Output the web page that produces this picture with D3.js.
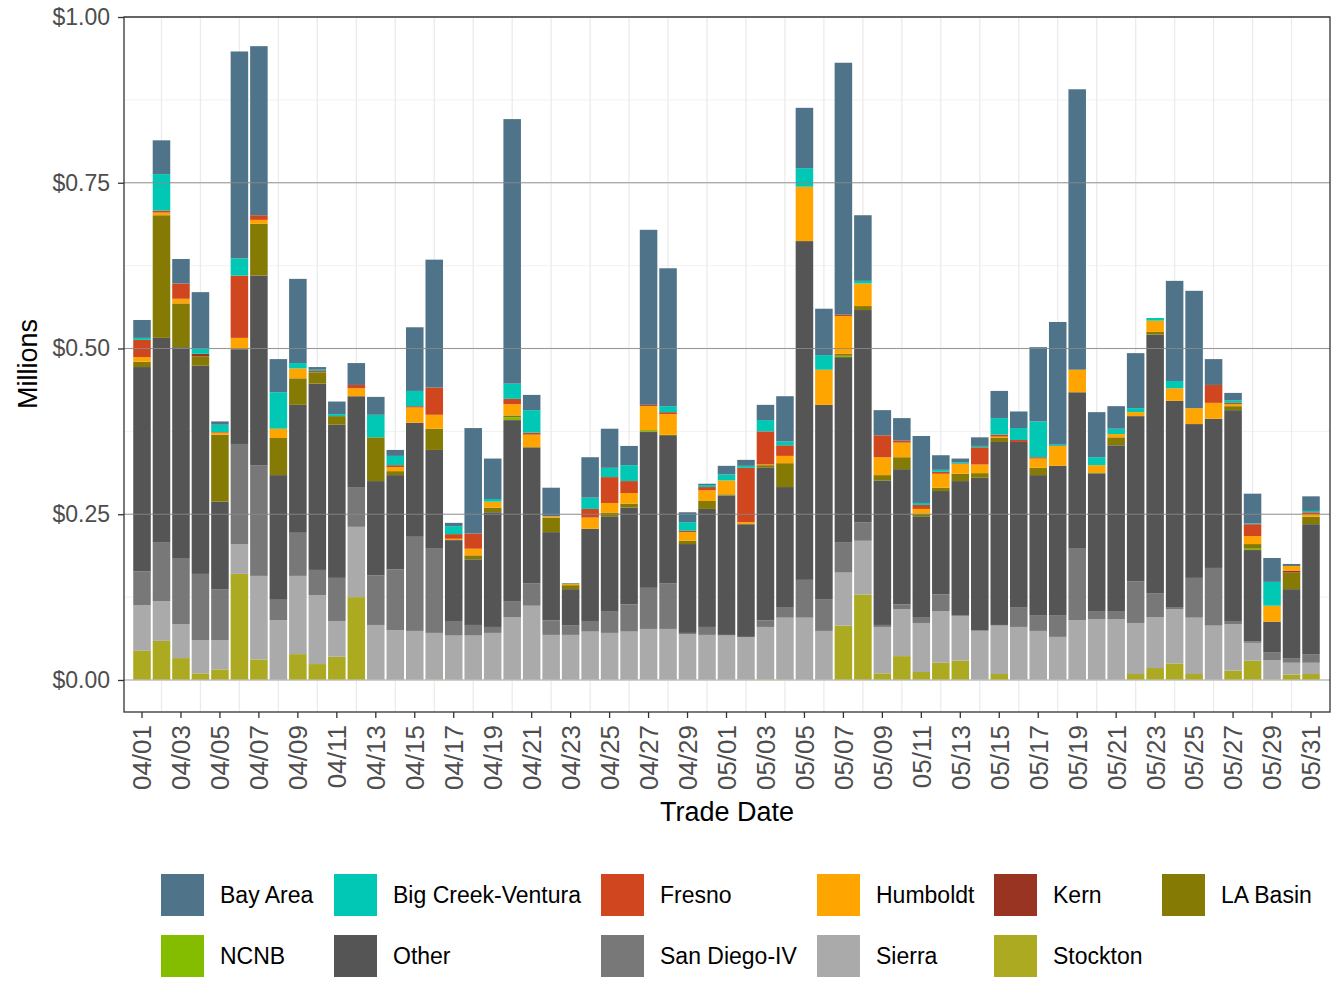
<!DOCTYPE html>
<html>
<head>
<meta charset="utf-8">
<script src="https://cdn.jsdelivr.net/npm/d3@7"></script>
<style>
  body { margin: 0; background: #fff; }
  text { font-family: "Liberation Sans", Arial, Helvetica, sans-serif; }
</style>
</head>
<body>
<div id="wrapper"></div>
<script>
// Data (millions $)
const tradeDates = [
  "04/01","04/02","04/03","04/04","04/05","04/06","04/07","04/08","04/09","04/10",
  "04/11","04/12","04/13","04/14","04/15","04/16","04/17","04/18","04/19","04/20",
  "04/21","04/22","04/23","04/24","04/25","04/26","04/27","04/28","04/29","04/30",
  "05/01","05/02","05/03","05/04","05/05","05/06","05/07","05/08","05/09","05/10",
  "05/11","05/12","05/13","05/14","05/15","05/16","05/17","05/18","05/19","05/20",
  "05/21","05/22","05/23","05/24","05/25","05/26","05/27","05/28","05/29","05/30","05/31"
]

const stockton = [
  .044,.059,.033,.010,.016,.160,.031,0,.039,.024,
  .035,.125,0,0,0,.001,0,0,0,0,
  0,0,0,0,.001,0,0,0,0,0,
  0,0,.001,.001,0,0,.082,.129,.010,.036,
  .012,.026,.029,0,.009,0,0,0,0,0,
  0,.009,.018,.025,.009,0,.014,.029,.001,.008,.009
]
const sierra = [
  .069,.060,.051,.050,.044,.045,.126,.090,.118,.104,
  .054,.106,.083,.075,.074,.070,.067,.067,.071,.095,
  .112,.068,.068,.073,.070,.073,.077,.077,.069,.068,
  .067,.065,.079,.093,.094,.074,.080,.081,.070,.071,
  .074,.078,.068,.074,.073,.080,.074,.065,.090,.092,
  .092,.077,.077,.082,.085,.082,.070,.027,.029,.018,.017
]
const sanDiego = [
  .051,.089,.100,.100,.077,.151,.167,.031,.065,.038,
  .065,.060,.075,.092,.142,.128,.022,.016,.009,.024,
  .034,.022,.014,.016,.032,.041,.062,.069,.002,.012,
  .001,0,.010,.015,.057,.048,.046,.028,.003,.007,
  .009,.025,0,.001,.001,.030,.023,.032,.108,.011,
  .012,.063,.036,.003,.060,.087,.005,.002,.012,.007,.013
]
const other = [
  .308,.308,.318,.314,.132,.143,.286,.188,.193,.281,
  .231,.137,.142,.142,.172,.148,.122,.099,.173,.273,
  .205,.133,.055,.139,.143,.146,.235,.222,.134,.178,
  .210,.170,.230,.182,.511,.293,.279,.320,.218,.204,
  .151,.156,.203,.230,.276,.249,.212,.226,.236,.208,
  .250,.249,.390,.311,.232,.225,.318,.138,.046,.104,.196
]
const ncnb = [
  0,0,0,0,0,0,0,0,0,0,
  0,0,0,0,0,0,0,0,0,.004,
  0,0,0,0,0,0,.002,0,0,0,
  0,0,0,0,0,0,.002,0,0,0,
  0,0,0,0,0,0,0,0,0,0,
  0,0,0,0,0,0,0,.002,0,0,0
]
const laBasin = [
  .008,.185,.066,.014,.101,0,.078,.056,.040,.017,
  .013,0,.066,.006,0,.032,0,.006,.007,.003,
  0,.022,.006,0,.006,.006,.001,.002,.005,.012,
  .002,0,.004,.036,0,0,.003,.006,.008,.018,
  .005,.005,.011,.007,.006,0,.011,0,0,.002,
  .012,0,.004,0,0,0,.006,.007,0,.025,.011
]
const kern = [
  0,0,0,.004,0,0,0,0,0,0,
  0,0,0,0,0,0,0,0,0,0,
  0,0,0,0,0,0,0,0,0,0,
  0,0,0,0,0,0,0,0,0,0,
  0,0,0,0,0,0,0,0,0,0,
  0,0,0,0,0,0,0,0,0,.003,0
]
const humboldt = [
  .007,.004,.007,0,.003,.017,.006,.014,.015,0,
  0,.012,0,.006,.023,.021,.002,.010,.009,.017,
  .019,.002,.002,.017,.015,.016,.036,.031,.013,.016,
  .021,.003,.001,.011,.082,.053,.057,.034,.027,.022,
  .007,.021,.015,.013,.002,0,.014,.030,.034,.011,
  .005,.006,.017,.019,.024,.024,.003,.012,.024,.007,.004
]
const fresno = [
  .026,.003,.023,0,.001,.094,.007,0,0,.002,
  0,.005,0,.003,.002,.041,.007,.023,0,.008,
  .003,0,0,.013,.039,.018,.002,.003,.002,.005,
  0,.082,.050,.016,0,0,.002,0,.033,.003,
  .006,.003,0,.026,.003,.003,.002,0,0,0,
  0,0,0,0,0,.027,.002,.018,0,0,.003
]
const bigCreek = [
  .003,.055,0,.008,.011,.026,0,.055,.008,.002,
  .003,0,.034,.014,.023,0,.012,0,.004,.023,
  .034,0,0,.017,.014,.024,0,.009,.013,.003,
  .009,.003,.017,.006,.028,.022,0,.004,0,0,
  .003,.003,.002,.002,.025,.018,.054,.002,0,.012,
  .008,.006,.004,.011,0,0,.004,.001,.036,0,.002
]
const bayArea = [
  .027,.051,.037,.085,.005,.312,.255,.050,.127,.004,
  .019,.033,.027,.009,.096,.193,.005,.159,.061,.399,
  .023,.043,.001,.061,.059,.029,.264,.208,.015,.002,
  .013,.009,.023,.068,.091,.070,.380,.099,.038,.034,
  .101,.022,.006,.013,.041,.025,.112,.185,.423,.068,
  .034,.083,0,.151,.177,.039,.011,.045,.036,.003,.022
]

const yTickValues = [0, 0.25, 0.5, 0.75, 1]

// legend order (alphabetical), stack goes the other way (first level on top)
const seriesNames = ["Bay Area","Big Creek-Ventura","Fresno","Humboldt","Kern","LA Basin",
  "NCNB","Other","San Diego-IV","Sierra","Stockton"]
const seriesColors = ["#4f7489","#00c8b4","#d0461f","#ffa500","#993322","#857a04",
  "#84bd00","#555555","#787878","#aaaaaa","#abaa21"]
const seriesValues = [bayArea, bigCreek, fresno, humboldt, kern, laBasin,
  ncnb, other, sanDiego, sierra, stockton]

function drawChart() {
  // table for d3.stack
  const table = tradeDates.map((d, i) => {
    const row = { date: d }
    seriesNames.forEach((s, j) => row[s] = seriesValues[j][i])
    return row
  })
  const colorScale = d3.scaleOrdinal().domain(seriesNames).range(seriesColors)
  const stackKeys = seriesNames.slice().reverse()
  const series = d3.stack().keys(stackKeys)(table)

  // 2. dimensions
  let dimensions = {
    width: 1344,
    height: 1008,
    margin: { top: 17, right: 14, bottom: 296, left: 124 },
  }
  dimensions.boundedWidth = dimensions.width - dimensions.margin.left - dimensions.margin.right
  dimensions.boundedHeight = dimensions.height - dimensions.margin.top - dimensions.margin.bottom

  // 3. canvas
  const wrapper = d3.select("#wrapper")
    .append("svg")
      .attr("width", dimensions.width)
      .attr("height", dimensions.height)

  wrapper.append("rect")
    .attr("width", dimensions.width)
    .attr("height", dimensions.height)
    .attr("fill", "#fff")

  const bounds = wrapper.append("g")
    .attr("transform", `translate(${dimensions.margin.left},${dimensions.margin.top})`)

  // 4. scales
  const firstCenter = 18, lastCenter = 1187
  const step = (lastCenter - firstCenter) / (tradeDates.length - 1)
  const xScale = d3.scaleBand()
    .domain(tradeDates)
    .range([firstCenter - step / 2, lastCenter + step / 2])
    .paddingInner(0.1)
    .paddingOuter(0.05)
  const xCenter = d => xScale(d) + xScale.bandwidth() / 2

  const yScale = d3.scaleLinear()
    .domain([-0.0483, 1.0])
    .range([dimensions.boundedHeight, 0])

  // grid
  const grid = bounds.append("g")
  const hGrid = d3.range(0, 1.01, 0.125)
  grid.selectAll(".hgrid")
    .data(hGrid)
    .enter().append("line")
      .attr("x1", 0)
      .attr("x2", dimensions.boundedWidth)
      .attr("y1", d => yScale(d))
      .attr("y2", d => yScale(d))
      .attr("stroke", "#ebebeb")
      .attr("stroke-width", (d, i) => i % 2 ? 0.7 : 1.3)
  grid.selectAll(".vgrid")
    .data(tradeDates.filter((d, i) => i % 2 === 1))
    .enter().append("line")
      .attr("x1", d => xCenter(d))
      .attr("x2", d => xCenter(d))
      .attr("y1", 0)
      .attr("y2", dimensions.boundedHeight)
      .attr("stroke", "#ebebeb")
      .attr("stroke-width", 1.3)

  // 5. bars
  bounds.append("g")
    .selectAll("g")
    .data(series)
    .enter().append("g")
      .attr("fill", d => colorScale(d.key))
    .selectAll("rect")
    .data(d => d)
    .enter().append("rect")
      .attr("x", d => xScale(d.data.date))
      .attr("width", xScale.bandwidth())
      .attr("y", d => yScale(d[1]))
      .attr("height", d => Math.max(0, yScale(d[0]) - yScale(d[1])))

  // reference lines over the bars
  bounds.append("g")
    .selectAll("line")
    .data(yTickValues)
    .enter().append("line")
      .attr("x1", 0)
      .attr("x2", dimensions.boundedWidth)
      .attr("y1", d => yScale(d))
      .attr("y2", d => yScale(d))
      .attr("stroke", d => d === 0 ? "#bdbdbd" : "#8a8a8a")
      .attr("stroke-width", d => d === 0 ? 1.6 : 1.2)
      .attr("opacity", 0.85)

  // panel border
  bounds.append("rect")
    .attr("width", dimensions.boundedWidth)
    .attr("height", dimensions.boundedHeight)
    .attr("fill", "none")
    .attr("stroke", "#333")
    .attr("stroke-width", 1.3)

  // 6. axes
  const yAxisGenerator = d3.axisLeft(yScale)
    .tickValues(yTickValues)
    .tickFormat(d3.format("$.2f"))
    .tickSize(6)
    .tickPadding(8)
  const yAxis = bounds.append("g").call(yAxisGenerator)
  yAxis.select(".domain").remove()
  yAxis.selectAll(".tick line").attr("stroke", "#333").attr("stroke-width", 1.3)
  yAxis.selectAll(".tick text")
    .attr("fill", "#4d4d4d")
    .style("font-size", "23px")

  const xAxisGenerator = d3.axisBottom(xScale)
    .tickValues(tradeDates.filter((d, i) => i % 2 === 0))
    .tickSize(6)
  const xAxis = bounds.append("g")
    .attr("transform", `translate(0,${dimensions.boundedHeight})`)
    .call(xAxisGenerator)
  xAxis.select(".domain").remove()
  xAxis.selectAll(".tick line").attr("stroke", "#333").attr("stroke-width", 1.3)
  xAxis.selectAll(".tick text")
    .attr("transform", "rotate(-90)")
    .attr("x", -13)
    .attr("y", 0)
    .attr("dy", "0.36em")
    .attr("text-anchor", "end")
    .attr("fill", "#4d4d4d")
    .style("font-size", "26px")

  wrapper.append("text")
    .attr("x", 727)
    .attr("y", 821)
    .attr("text-anchor", "middle")
    .attr("fill", "#000")
    .style("font-size", "27px")
    .text("Trade Date")

  wrapper.append("text")
    .attr("transform", "translate(37,364) rotate(-90)")
    .attr("text-anchor", "middle")
    .attr("fill", "#000")
    .style("font-size", "27px")
    .text("Millions")

  // legend
  const legendColX = [161, 334, 601, 817, 994, 1162]
  const legendRowY = [874, 935]
  const legend = wrapper.append("g")
  const items = legend.selectAll("g")
    .data(seriesNames)
    .enter().append("g")
      .attr("transform", (d, i) => `translate(${legendColX[i % 6]},${legendRowY[Math.floor(i / 6)]})`)
  items.append("rect")
    .attr("width", 43)
    .attr("height", 42)
    .attr("fill", d => colorScale(d))
  items.append("text")
    .attr("x", 59)
    .attr("y", 21)
    .attr("dy", "0.35em")
    .attr("fill", "#000")
    .style("font-size", "23px")
    .text(d => d)
}

drawChart()
</script>
</body>
</html>
